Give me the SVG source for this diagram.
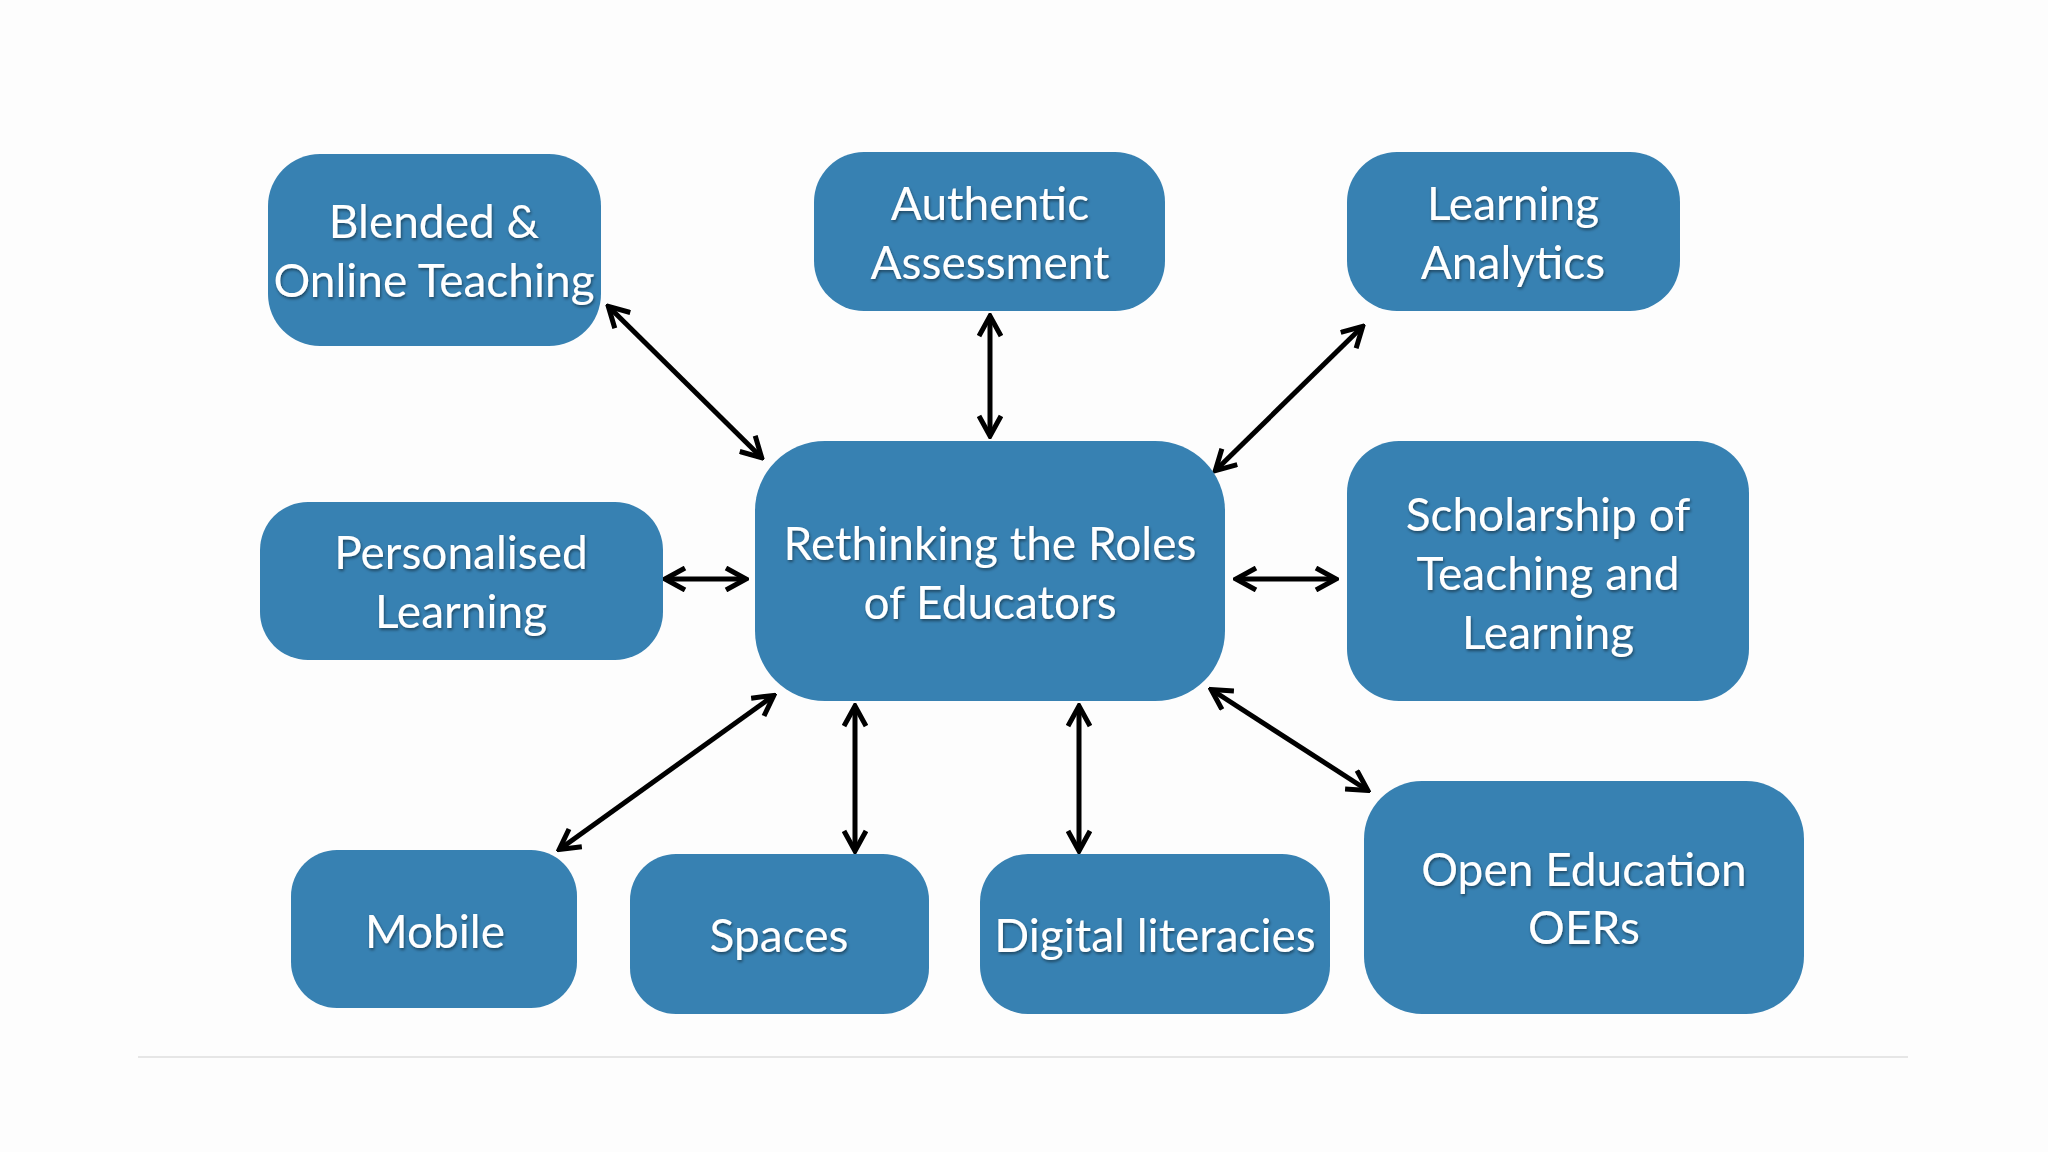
<svg xmlns="http://www.w3.org/2000/svg" width="2048" height="1152" viewBox="0 0 2048 1152">
  <defs>
    <style>
      .box { fill: #3781b2; }
      .lbl { font-family: Lato, "Open Sans", "Liberation Sans", sans-serif; font-size: 46px; fill: #ffffff; text-anchor: middle; filter: url(#ts); }
      .conn line { stroke: #000000; stroke-width: 5; fill: none; marker-start: url(#ah); marker-end: url(#ah); }
    </style>
    <filter id="ts" x="-10%" y="-30%" width="120%" height="160%">
      <feDropShadow dx="1" dy="2" stdDeviation="1.5" flood-color="#000000" flood-opacity="0.45"/>
    </filter>
    <marker id="ah" viewBox="0 0 26 26" refX="22" refY="13" markerWidth="26" markerHeight="26" markerUnits="userSpaceOnUse" orient="auto-start-reverse">
      <path d="M3,2 L23,13 L3,24" fill="none" stroke="#000000" stroke-width="5" stroke-linejoin="miter"/>
    </marker>
  </defs>

  <rect width="2048" height="1152" fill="#fdfdfd"/>
  <line x1="138" y1="1057" x2="1908" y2="1057" stroke="#e6e6e6" stroke-width="2"/>

  <g id="connectors" class="conn">
    <line x1="609" y1="307" x2="761" y2="457"/>
    <line x1="990" y1="317" x2="990" y2="435"/>
    <line x1="1362" y1="327" x2="1216" y2="470"/>
    <line x1="666" y1="579" x2="745" y2="579"/>
    <line x1="1237" y1="579" x2="1335" y2="579"/>
    <line x1="560" y1="849" x2="773" y2="696"/>
    <line x1="855" y1="707" x2="855" y2="850"/>
    <line x1="1079" y1="707" x2="1079" y2="850"/>
    <line x1="1212" y1="690" x2="1367" y2="790"/>
  </g>

  <g id="node-blended">
    <rect class="box" x="268" y="154" width="333" height="192" rx="52"/>
    <text class="lbl" x="434" y="238">Blended &amp;</text>
    <text class="lbl" x="434" y="297">Online Teaching</text>
  </g>

  <g id="node-authentic">
    <rect class="box" x="814" y="152" width="351" height="159" rx="50"/>
    <text class="lbl" x="990" y="220">Authentic</text>
    <text class="lbl" x="990" y="279">Assessment</text>
  </g>

  <g id="node-analytics">
    <rect class="box" x="1347" y="152" width="333" height="159" rx="50"/>
    <text class="lbl" x="1513" y="220">Learning</text>
    <text class="lbl" x="1513" y="279">Analytics</text>
  </g>

  <g id="node-personalised">
    <rect class="box" x="260" y="502" width="403" height="158" rx="48"/>
    <text class="lbl" x="461" y="569">Personalised</text>
    <text class="lbl" x="461" y="628">Learning</text>
  </g>

  <g id="node-center">
    <rect class="box" x="755" y="441" width="470" height="260" rx="70"/>
    <text class="lbl" x="990" y="560">Rethinking the Roles</text>
    <text class="lbl" x="990" y="619">of Educators</text>
  </g>

  <g id="node-scholarship">
    <rect class="box" x="1347" y="441" width="402" height="260" rx="52"/>
    <text class="lbl" x="1548" y="531">Scholarship of</text>
    <text class="lbl" x="1548" y="590">Teaching and</text>
    <text class="lbl" x="1548" y="649">Learning</text>
  </g>

  <g id="node-mobile">
    <rect class="box" x="291" y="850" width="286" height="158" rx="46"/>
    <text class="lbl" x="435" y="948">Mobile</text>
  </g>

  <g id="node-spaces">
    <rect class="box" x="630" y="854" width="299" height="160" rx="46"/>
    <text class="lbl" x="779" y="952">Spaces</text>
  </g>

  <g id="node-digital">
    <rect class="box" x="980" y="854" width="350" height="160" rx="48"/>
    <text class="lbl" x="1155" y="952">Digital literacies</text>
  </g>

  <g id="node-open">
    <rect class="box" x="1364" y="781" width="440" height="233" rx="58"/>
    <text class="lbl" x="1584" y="886">Open Education</text>
    <text class="lbl" x="1584" y="944">OERs</text>
  </g>
</svg>
